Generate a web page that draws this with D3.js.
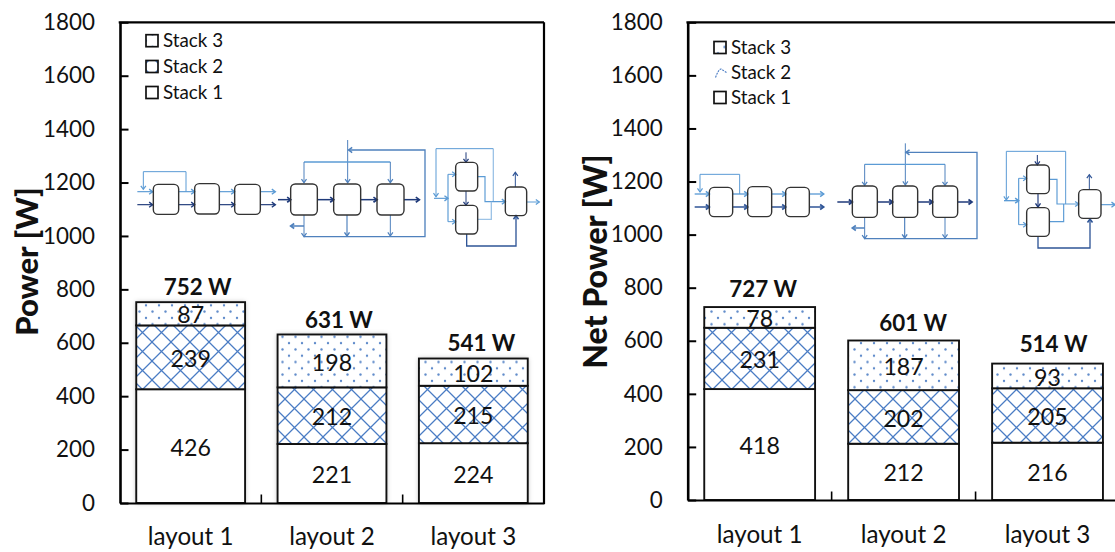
<!DOCTYPE html>
<html><head><meta charset="utf-8">
<script src="https://cdn.jsdelivr.net/npm/d3@7"></script>
<style>
html,body{margin:0;padding:0;background:#fff;overflow:hidden}
svg{display:block}
text{font-family:Lato,"Noto Sans",sans-serif;fill:#111}
</style></head><body>
<svg id="c" width="1115" height="552"></svg>
<script>
const categories = ["layout 1","layout 2","layout 3"];
const seriesNames = ["Stack 1","Stack 2","Stack 3"];
const yTicks = [0,200,400,600,800,1000,1200,1400,1600,1800];

const powerStack1 = [426,221,224];
const powerStack2 = [239,212,215];
const powerStack3 = [87,198,102];
const powerTotals = [752,631,541];

const netStack1 = [418,212,216];
const netStack2 = [231,202,205];
const netStack3 = [78,187,93];
const netTotals = [727,601,514];

const svg = d3.select("#c");
const BLUE="#4a7cc4", NAVY="#1f3a7a", LIGHT="#5b9bd5", PALE="#9dc3e6", MID="#4f81bd", STEEL="#2f5597";
const defs = svg.append("defs");

const HT=19;
const hatch = defs.append("pattern").attr("id","hatch").attr("patternUnits","userSpaceOnUse")
  .attr("width",HT).attr("height",HT);
hatch.append("rect").attr("width",HT).attr("height",HT).attr("fill","#fff");
hatch.append("path").attr("d",`M0,0L${HT},${HT}M${HT},0L0,${HT}`).attr("stroke",BLUE).attr("stroke-width",1.25).attr("fill","none");
const dots = defs.append("pattern").attr("id","dots").attr("patternUnits","userSpaceOnUse")
  .attr("width",13).attr("height",12.6);
dots.append("rect").attr("width",13).attr("height",12.6).attr("fill","#fff");
[[3,3],[9.5,9.3]].forEach(p=>dots.append("circle").attr("cx",p[0]).attr("cy",p[1]).attr("r",1.2).attr("fill",BLUE).attr("opacity",.9));
const sh = defs.append("filter").attr("id","soft").attr("x","-10%").attr("y","-10%").attr("width","120%").attr("height","120%");
sh.append("feDropShadow").attr("dx",0).attr("dy",0).attr("stdDeviation",2.5).attr("flood-color","#000").attr("flood-opacity",.3);

function chart(cfg){
  const y = d3.scaleLinear().domain([0,1800]).range([cfg.bottom,cfg.top]);
  const x = d3.scaleBand().domain(categories).range([cfg.left,cfg.right]).paddingInner(.23).paddingOuter(.115);
  const g = svg.append("g");
  const series = [
    {name:seriesNames[0],values:cfg.s1,fill:"#fff"},
    {name:seriesNames[1],values:cfg.s2,fill:"url(#hatch)"},
    {name:seriesNames[2],values:cfg.s3,fill:"url(#dots)"}];
  const stack = d3.stack().keys([0,1,2]).value((d,k)=>series[k].values[d]);
  const layers = stack(categories.map((c,i)=>i));

  if(cfg.shadow){
    g.selectAll("rect.shadow").data(categories).join("rect").attr("class","shadow")
      .attr("x",d=>x(d)).attr("width",x.bandwidth())
      .attr("y",(d,i)=>y(cfg.totals[i])).attr("height",(d,i)=>y(0)-y(cfg.totals[i]))
      .attr("fill","#fff").attr("filter","url(#soft)");
  }
  layers.forEach((layer,k)=>{
    g.append("g").selectAll("rect").data(layer).join("rect")
      .attr("x",(d,i)=>x(categories[i])).attr("width",x.bandwidth())
      .attr("y",d=>y(d[1])).attr("height",d=>y(d[0])-y(d[1]))
      .attr("fill",series[k].fill).attr("stroke","#111").attr("stroke-width",1.9);
  });
  // frame
  const yAxis = d3.axisLeft(y).tickValues(yTicks).tickFormat(d3.format("d")).tickSizeInner(-8.5).tickSizeOuter(0).tickPadding(25);
  const ag = g.append("g").attr("transform",`translate(${cfg.left},0)`).call(yAxis);
  ag.select(".domain").attr("stroke","#000").attr("stroke-width",2.6);
  ag.selectAll(".tick line").attr("stroke","#000").attr("stroke-width",2);
  ag.selectAll("text").attr("font-size",22.4).attr("font-family","Lato").attr("fill","#111");

  const xAxis = d3.axisBottom(x).tickSize(0).tickPadding(cfg.xPad);
  const bg = g.append("g").attr("transform",`translate(0,${cfg.bottom})`).call(xAxis);
  bg.select(".domain").attr("stroke","#000").attr("stroke-width",2.2);
  bg.selectAll("text").attr("font-size",24.2).attr("font-family","Lato").attr("fill","#111");
  g.selectAll("line.sep").data(d3.range(1,3)).join("line").attr("class","sep")
    .attr("x1",i=>cfg.left+i*x.step()).attr("x2",i=>cfg.left+i*x.step())
    .attr("y1",cfg.bottom).attr("y2",cfg.bottom-8.5).attr("stroke","#000").attr("stroke-width",1.6);
  g.append("line").attr("x1",cfg.left-1.3).attr("x2",cfg.right).attr("y1",cfg.top).attr("y2",cfg.top)
    .attr("stroke","#000").attr("stroke-width",2.2);
  g.append("line").attr("x1",cfg.right).attr("x2",cfg.right).attr("y1",cfg.top).attr("y2",cfg.bottom+1)
    .attr("stroke","#000").attr("stroke-width",2.2);

  // value labels
  layers.forEach((layer,k)=>{
    g.append("g").selectAll("text").data(layer).join("text")
      .attr("x",(d,i)=>x(categories[i])+x.bandwidth()/2)
      .attr("y",d=>(y(d[0])+y(d[1]))/2+1.5)
      .attr("dy",".35em").attr("text-anchor","middle").attr("font-size",23.2)
      .text((d,i)=>series[k].values[i]);
  });
  // totals
  g.append("g").selectAll("text").data(cfg.totals).join("text")
    .attr("x",(d,i)=>x(categories[i])+x.bandwidth()/2+cfg.totalDx[i])
    .attr("y",(d,i)=>y(d)-cfg.totalDy[i])
    .attr("dy",".35em").attr("text-anchor","middle").attr("font-size",22.4).attr("font-weight",700)
    .text(d=>d+" W");
  // y title
  g.append("text").attr("transform",`translate(${cfg.titleX},${cfg.titleY}) rotate(-90)`)
    .attr("text-anchor","middle").attr("font-size",cfg.titleSize).attr("font-weight",900).attr("dy",".35em")
    .text(cfg.title);
  // legend
  const leg = g.append("g");
  [2,1,0].forEach((k,row)=>{
    const cy = cfg.legY[row];
    if(!(cfg.noSwatch===k)){
      leg.append("rect").attr("x",cfg.legX).attr("y",cy-6).attr("width",12).attr("height",12)
        .attr("fill",series[k].fill).attr("stroke","#111").attr("stroke-width",1.7);
    } else {
      leg.append("path").attr("d",`M${cfg.legX+1.5},${cy+5} Q${cfg.legX+5},${cy-4} ${cfg.legX+7},${cy-3.5} L${cfg.legX+12.5},${cy}`)
        .attr("fill","none").attr("stroke",BLUE).attr("stroke-width",1.1).attr("stroke-dasharray","2 1");
    }
    leg.append("text").attr("x",cfg.legX+17).attr("y",cy).attr("dy",".35em").attr("font-size",cfg.legSize).text(series[k].name);
  });
}

chart({left:120,right:544,top:22.3,bottom:503,s1:powerStack1,s2:powerStack2,s3:powerStack3,totals:powerTotals,
  totalDx:[7,7,8],totalDy:[15,14,15],title:"Power [W]",titleX:27.5,titleY:261.5,titleSize:31,
  xPad:25,legX:146,legY:[40.7,66.5,92.5],legSize:18.8,shadow:true});
chart({left:687.7,right:1119.5,top:22.3,bottom:500,s1:netStack1,s2:netStack2,s3:netStack3,totals:netTotals,
  totalDx:[3.6,9.5,6],totalDy:[18,17,19],title:"Net Power [W]",titleX:596,titleY:261.5,titleSize:32,
  xPad:26,legX:714,legY:[47.5,72.5,97.5],legSize:18.8,noSwatch:1});

// Flow-sheet insets, in 3x picture units
function inset(ox, boxes, lines){
  const g = svg.append("g").attr("transform",`translate(${ox},0) scale(${1/3})`);
  lines.forEach(l=>{
    const [col,w,arrow,pts]=l;
    g.append("path").attr("d",d3.line()(pts)).attr("fill","none").attr("stroke",col).attr("stroke-width",w);
    if(arrow){
      const a=pts[pts.length-2], b=pts[pts.length-1];
      const t=Math.atan2(b[1]-a[1],b[0]-a[0]), L=13, H=.62;
      g.append("path").attr("d",d3.line()([
        [b[0]-L*Math.cos(t-H),b[1]-L*Math.sin(t-H)],b,
        [b[0]-L*Math.cos(t+H),b[1]-L*Math.sin(t+H)]]))
        .attr("fill","none").attr("stroke",col).attr("stroke-width",w+.6);
    }
  });
  boxes.forEach(b=>g.append("rect").attr("x",b[0]).attr("y",b[1]).attr("width",b[2]-b[0]).attr("height",b[3]-b[1])
    .attr("rx",14).attr("fill","none").attr("stroke","#333").attr("stroke-width",4.2));
}
inset(100,[
 [160,553,236,643],[284,551,358,642],[404,553,481,643],
 [572,552,652,645],[701,552,782,645],[831,552,912,645],
 [1067,487,1133,573],[1067,616,1133,702],[1216,561,1280,647]
],[
 [LIGHT,3.5,1,[[112,575],[158,575]]],[LIGHT,3.5,1,[[236,575],[284,575]]],[LIGHT,3.5,1,[[358,575],[404,575]]],[LIGHT,3.5,1,[[481,575],[526,575]]],
 [NAVY,3.5,1,[[112,614],[158,614]]],[NAVY,3.5,1,[[236,614],[284,614]]],[NAVY,3.5,1,[[358,614],[404,614]]],[NAVY,3.5,1,[[481,614],[526,614]]],
 [LIGHT,3,1,[[258,575],[258,515],[130,515],[130,568]]],
 [NAVY,4.5,1,[[534,599],[572,599]]],[NAVY,4.5,1,[[652,599],[701,599]]],[NAVY,4.5,1,[[782,599],[831,599]]],[NAVY,4.5,1,[[912,599],[958,599]]],
 [MID,3,1,[[743,420],[743,548]]],[LIGHT,4,0,[[612,486],[871,486]]],[MID,3,1,[[612,486],[612,548]]],[MID,3,1,[[871,486],[871,548]]],
 [MID,4,1,[[612,710],[975,710],[975,450],[746,450]]],
 [MID,3,1,[[612,645],[612,710]]],[MID,3.5,1,[[741,645],[741,708]]],[MID,3,1,[[871,645],[871,708]]],[MID,4.5,1,[[612,678],[572,678]]],
 [PALE,4,0,[[1180,605],[1180,446]]],[LIGHT,3,1,[[1180,446],[1008,446],[1008,590]]],
 [LIGHT,3.5,1,[[1002,595],[1044,595]]],[LIGHT,3.5,0,[[1044,523],[1044,665]]],[LIGHT,3,1,[[1044,523],[1067,523]]],[LIGHT,3,1,[[1044,665],[1067,665]]],
 [LIGHT,3.5,1,[[1133,530],[1155,530],[1155,605],[1216,605]]],[PALE,4,0,[[1133,658],[1174,658],[1174,605]]],[LIGHT,3,1,[[1280,606],[1318,606]]],
 [NAVY,3,1,[[1098,457],[1098,487]]],[NAVY,3,1,[[1098,573],[1098,616]]],[STEEL,4,1,[[1100,702],[1100,738],[1248,738],[1248,647]]],[STEEL,3,1,[[1246,561],[1246,517]]]
]);
inset(680,[
 [88,562,158,650],[203,560,275,650],[317,562,388,650],
 [517,558,592,652],[638,558,713,652],[758,558,833,652],
 [1040,495,1108,581],[1040,623,1108,709],[1196,569,1263,655]
],[
 [LIGHT,4,1,[[44,582],[88,582]]],[LIGHT,4,1,[[158,582],[203,582]]],[LIGHT,4,1,[[275,582],[317,582]]],[LIGHT,4,1,[[388,582],[431,582]]],
 [STEEL,4.5,1,[[44,621],[88,621]]],[STEEL,4.5,1,[[158,621],[203,621]]],[STEEL,4.5,1,[[275,621],[317,621]]],[STEEL,4.5,1,[[388,621],[431,621]]],
 [LIGHT,3,1,[[179,582],[179,523],[60,523],[60,576]]],
 [NAVY,4.5,1,[[472,606],[517,606]]],[NAVY,4.5,1,[[592,606],[638,606]]],[NAVY,4.5,1,[[713,606],[758,606]]],[NAVY,4.5,1,[[833,606],[876,606]]],
 [MID,3,1,[[676,430],[676,555]]],[LIGHT,4,0,[[554,493],[795,493]]],[MID,3,1,[[554,493],[554,556]]],[MID,3,1,[[795,493],[795,556]]],
 [MID,4,1,[[555,716],[891,716],[891,457],[678,457]]],
 [MID,3,1,[[554,652],[554,716]]],[MID,3.5,1,[[674,652],[674,714]]],[MID,3,1,[[795,652],[795,714]]],[MID,4.5,1,[[554,684],[517,684]]],
 [LIGHT,3,1,[[1157,612],[1157,454],[979,454],[979,600]]],
 [LIGHT,4,1,[[972,602],[1016,602]]],[LIGHT,3.5,0,[[1016,535],[1016,674]]],[LIGHT,3,1,[[1016,535],[1040,535]]],[LIGHT,3,1,[[1016,674],[1040,674]]],
 [LIGHT,3.5,1,[[1108,538],[1131,538],[1131,612],[1196,612]]],[LIGHT,3.5,0,[[1108,665],[1151,665],[1151,612]]],[LIGHT,3.5,1,[[1263,614],[1305,614]]],
 [NAVY,3,1,[[1072,465],[1072,495]]],[NAVY,3.5,1,[[1074,581],[1074,621]]],[STEEL,4,1,[[1074,709],[1074,744],[1230,744],[1230,657]]],[STEEL,3,1,[[1228,569],[1228,524]]]
]);
</script>
</body></html>
